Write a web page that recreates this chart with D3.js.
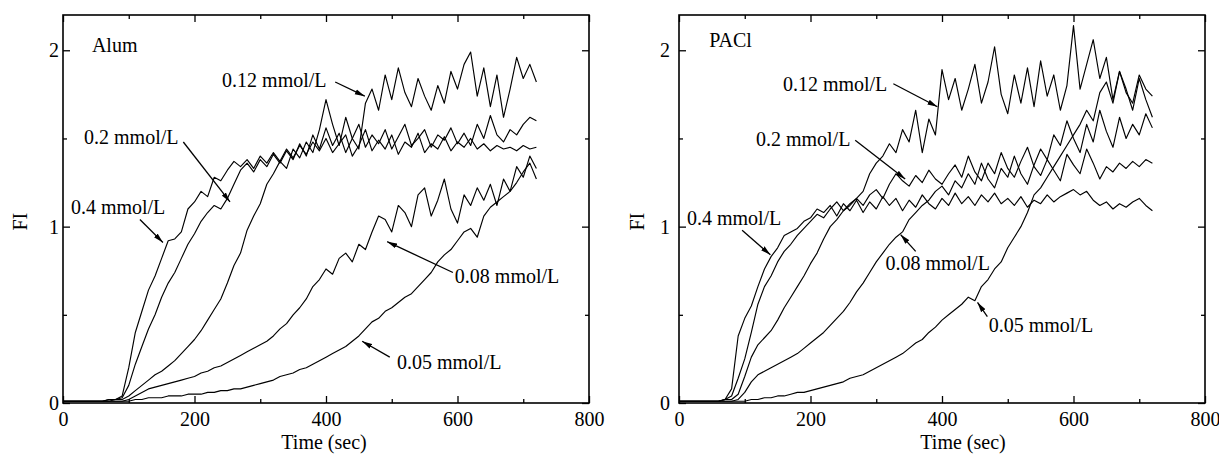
<!DOCTYPE html>
<html>
<head>
<meta charset="utf-8">
<title>FI vs time - Alum / PACl</title>
<script src="https://d3js.org/d3.v7.min.js"></script>
<style>
  body { margin: 0; background: #fff; }
  svg text { font-family: "Liberation Serif", "Times New Roman", serif; fill: #000; }
</style>
</head>
<body>
<svg id="chart" width="1219" height="454"></svg>
<script>

// sampling times (sec)
var times = d3.range(0, 730, 10);

var xMajor = [0, 200, 400, 600, 800];
var xMinor = [100, 300, 500, 700];
var yMajor = [0, 1, 2];
var yMinor = [0.5, 1.5];

// Alum
var alum04 = [0.01,0.01,0.01,0.01,0.01,0.01,0.01,0.02,0.02,
  0.04,0.20,0.40,0.52,0.64,0.72,0.82,0.92,0.93,0.97,1.10,1.14,1.20,1.17,1.28,1.26,1.32,1.37,1.34,1.38,
  1.33,1.40,1.36,1.42,1.37,1.44,1.39,1.46,1.41,1.48,1.43,1.50,1.42,1.47,1.52,1.40,1.46,1.55,1.43,1.49,
  1.44,1.52,1.41,1.48,1.45,1.53,1.42,1.47,1.44,1.51,1.43,1.48,1.45,1.50,1.44,1.47,1.43,1.46,1.44,1.45,
  1.43,1.46,1.44,1.45];
var alum02 = [0.01,0.01,0.01,0.01,0.01,0.01,0.01,0.02,0.02,
  0.03,0.10,0.22,0.32,0.42,0.50,0.60,0.68,0.74,0.82,0.90,0.96,1.03,1.08,1.12,1.10,1.16,1.24,1.32,1.36,
  1.31,1.38,1.34,1.41,1.36,1.43,1.38,1.47,1.40,1.52,1.44,1.56,1.46,1.53,1.42,1.50,1.58,1.45,1.52,1.47,
  1.55,1.44,1.51,1.58,1.46,1.50,1.55,1.45,1.52,1.49,1.56,1.47,1.53,1.46,1.58,1.50,1.63,1.52,1.48,1.55,
  1.52,1.58,1.62,1.60];
var alum012 = [0.01,0.01,0.01,0.01,0.01,0.01,0.01,0.01,0.02,0.02,
  0.04,0.07,0.10,0.13,0.16,0.18,0.21,0.24,0.28,0.32,0.36,0.41,0.47,0.53,0.59,0.68,0.78,0.85,0.98,
  1.06,1.13,1.24,1.30,1.37,1.33,1.44,1.39,1.48,1.42,1.55,1.72,1.58,1.46,1.62,1.50,1.44,1.70,1.78,
  1.66,1.86,1.72,1.90,1.76,1.68,1.84,1.74,1.66,1.80,1.70,1.88,1.78,1.92,1.99,1.74,1.90,1.68,1.86,
  1.62,1.78,1.96,1.84,1.92,1.82];
var alum008 = [0.01,0.01,0.01,0.01,0.01,0.01,0.01,0.01,0.01,0.01,
  0.02,0.04,0.06,0.08,0.09,0.10,0.11,0.12,0.13,0.14,0.15,0.17,0.18,0.20,0.21,0.23,0.25,0.27,0.29,
  0.31,0.33,0.35,0.38,0.42,0.45,0.50,0.54,0.59,0.66,0.70,0.76,0.73,0.82,0.85,0.80,0.90,0.87,0.97,
  1.06,1.04,0.97,1.12,1.08,1.00,1.18,1.22,1.06,1.15,1.27,1.10,1.02,1.18,1.12,1.22,1.15,1.24,1.12,
  1.27,1.20,1.34,1.28,1.40,1.33];
var alum005 = [0.01,0.01,0.01,0.01,0.01,0.01,0.01,0.01,0.01,0.01,
  0.01,0.02,0.02,0.03,0.03,0.03,0.04,0.04,0.04,0.05,0.05,0.05,0.06,0.06,0.07,0.07,0.08,0.08,0.09,
  0.10,0.11,0.12,0.13,0.15,0.16,0.17,0.19,0.20,0.22,0.24,0.26,0.28,0.30,0.32,0.35,0.38,0.42,0.46,
  0.48,0.52,0.54,0.57,0.60,0.62,0.66,0.70,0.74,0.80,0.84,0.87,0.92,0.97,0.99,0.94,1.06,1.11,1.14,
  1.17,1.20,1.25,1.31,1.36,1.27];

// PACl
var pacl04 = [0.01,0.01,0.01,0.01,0.01,0.01,0.01,
  0.02,0.08,0.38,0.48,0.55,0.66,0.76,0.83,0.88,0.95,0.97,0.99,1.03,1.05,1.10,1.08,1.12,1.06,1.13,
  1.09,1.15,1.08,1.14,1.10,1.17,1.12,1.16,1.09,1.15,1.11,1.18,1.13,1.10,1.16,1.12,1.19,1.13,1.17,
  1.12,1.18,1.14,1.19,1.13,1.16,1.12,1.17,1.11,1.15,1.13,1.18,1.14,1.17,1.19,1.21,1.18,1.20,1.15,
  1.12,1.14,1.10,1.13,1.11,1.14,1.16,1.12,1.09];
var pacl02 = [0.01,0.01,0.01,0.01,0.01,0.01,0.01,0.02,
  0.04,0.14,0.25,0.40,0.56,0.66,0.72,0.80,0.86,0.90,0.95,0.99,1.03,1.07,1.05,1.10,1.14,1.09,1.13,
  1.16,1.12,1.18,1.21,1.16,1.24,1.30,1.26,1.23,1.29,1.25,1.32,1.27,1.24,1.30,1.35,1.28,1.40,1.31,
  1.26,1.36,1.30,1.42,1.33,1.28,1.37,1.45,1.34,1.29,1.38,1.32,1.26,1.41,1.35,1.30,1.44,1.36,1.27,
  1.34,1.31,1.36,1.33,1.37,1.34,1.38,1.36];
var pacl012 = [0.01,0.01,0.01,0.01,0.01,0.01,0.01,0.02,0.02,
  0.05,0.15,0.26,0.33,0.37,0.41,0.47,0.54,0.60,0.66,0.72,0.79,0.85,0.93,1.00,1.04,1.09,1.12,1.16,
  1.20,1.30,1.36,1.40,1.47,1.42,1.55,1.48,1.66,1.42,1.61,1.52,1.89,1.72,1.84,1.66,1.78,1.92,1.70,
  1.82,2.02,1.75,1.64,1.86,1.70,1.90,1.68,1.94,1.74,1.86,1.66,1.80,2.14,1.78,1.92,2.06,1.84,1.96,
  1.72,1.88,1.76,1.70,1.86,1.78,1.74];
var pacl008 = [0.01,0.01,0.01,0.01,0.01,0.01,0.01,0.01,0.01,
  0.02,0.06,0.12,0.16,0.18,0.20,0.22,0.24,0.26,0.28,0.31,0.34,0.37,0.40,0.44,0.48,0.52,0.57,0.63,
  0.68,0.74,0.80,0.85,0.90,0.94,0.97,1.04,1.08,1.12,1.15,1.20,1.23,1.18,1.26,1.22,1.30,1.24,1.36,
  1.27,1.22,1.33,1.28,1.40,1.30,1.24,1.35,1.44,1.38,1.52,1.46,1.60,1.50,1.42,1.58,1.48,1.66,1.54,
  1.45,1.62,1.50,1.58,1.52,1.64,1.56];
var pacl005 = [0.01,0.01,0.01,0.01,0.01,0.01,0.01,0.01,0.01,0.01,
  0.01,0.02,0.02,0.03,0.03,0.04,0.04,0.05,0.06,0.06,0.07,0.08,0.09,0.10,0.11,0.12,0.14,0.15,0.16,
  0.18,0.20,0.22,0.24,0.26,0.28,0.31,0.34,0.36,0.40,0.43,0.47,0.50,0.53,0.56,0.60,0.58,0.66,0.70,
  0.76,0.80,0.88,0.94,1.00,1.08,1.18,1.22,1.28,1.34,1.40,1.46,1.52,1.58,1.66,1.60,1.76,1.82,1.70,
  1.88,1.78,1.66,1.84,1.72,1.62];

var labels = ["0.4 mmol/L", "0.2 mmol/L", "0.12 mmol/L", "0.08 mmol/L", "0.05 mmol/L"];

var svg = d3.select("#chart");

svg.append("defs").append("marker")
  .attr("id", "arrow")
  .attr("markerUnits", "userSpaceOnUse")
  .attr("viewBox", "0 0 10 6")
  .attr("refX", 10).attr("refY", 3)
  .attr("markerWidth", 10).attr("markerHeight", 6)
  .attr("orient", "auto")
  .append("path").attr("d", "M0,0.4 L10,3 L0,5.6 Z").attr("fill", "#000");

var W = 526, H = 388;

function panel(opt) {
  var g = svg.append("g").attr("transform", "translate(" + opt.left + "," + opt.top + ")");
  var x = d3.scaleLinear().domain([0, 800]).range([0, W]);
  var y = d3.scaleLinear().domain([0, 2.2]).range([H, 0]);

  // curves
  var line = d3.line().x(function(d, i) { return x(times[i]); }).y(function(d) { return y(d); });
  g.selectAll("path.curve").data(opt.series).enter().append("path")
    .attr("class", "curve")
    .attr("d", line)
    .attr("fill", "none").attr("stroke", "#000").attr("stroke-width", 1.15)
    .attr("stroke-linejoin", "round");

  // axes, ticks pointing inside
  function ax(gen, tr, vals, size, fmt, pad) {
    var a = g.append("g").attr("transform", tr)
      .call(gen.tickValues(vals).tickSizeInner(-size).tickSizeOuter(0).tickPadding(pad).tickFormat(fmt));
    a.select(".domain").remove();
    a.selectAll("line").attr("stroke", "#000").attr("stroke-width", 1.3);
    a.selectAll("text").style("font-size", "20px").attr("font-family", null).attr("fill", "#000");
    return a;
  }
  var none = function() { return ""; };
  ax(d3.axisBottom(x), "translate(0," + H + ")", xMajor, 7, d3.format("d"), 9);
  ax(d3.axisBottom(x), "translate(0," + H + ")", xMinor, 4, none, 0);
  ax(d3.axisTop(x), "translate(0,0)", xMajor, 7, none, 0);
  ax(d3.axisTop(x), "translate(0,0)", xMinor, 4, none, 0);
  ax(d3.axisLeft(y), "translate(0,0)", yMajor, 7, d3.format("d"), opt.ypad);
  ax(d3.axisLeft(y), "translate(0,0)", yMinor, 4, none, 0);
  ax(d3.axisRight(y), "translate(" + W + ",0)", yMajor, 7, none, 0);
  ax(d3.axisRight(y), "translate(" + W + ",0)", yMinor, 4, none, 0);

  g.append("rect").attr("width", W).attr("height", H)
    .attr("fill", "none").attr("stroke", "#000").attr("stroke-width", 1.6);

  // axis titles
  g.append("text").attr("x", opt.xTitle).attr("y", H + 46)
    .attr("text-anchor", "middle").style("font-size", "20px").text("Time (sec)");
  g.append("text")
    .attr("transform", "translate(" + opt.yTitle + "," + (y(1) - 5) + ") rotate(-90)")
    .attr("text-anchor", "middle").style("font-size", "20px").text("FI");

  g.append("text").attr("x", x(opt.name[1])).attr("y", y(opt.name[2]))
    .style("font-size", "20px").text(opt.name[0]);

  // annotations: [label index, text t, text FI, arrow from t, FI, arrow to t, FI]
  opt.notes.forEach(function(n) {
    g.append("text").attr("x", x(n[1])).attr("y", y(n[2]))
      .style("font-size", "20px").text(labels[n[0]]);
    g.append("line")
      .attr("x1", x(n[3])).attr("y1", y(n[4]))
      .attr("x2", x(n[5])).attr("y2", y(n[6]))
      .attr("stroke", "#000").attr("stroke-width", 1.3)
      .attr("marker-end", "url(#arrow)");
  });
}

panel({
  left: 63, top: 15, ypad: 4, xTitle: 261, yTitle: -36,
  name: ["Alum", 44, 1.99],
  series: [alum04, alum02, alum012, alum008, alum005],
  notes: [
    [2, 242, 1.79, 414, 1.82, 459, 1.74],
    [1, 32, 1.47, 183, 1.48, 254, 1.14],
    [0, 12, 1.07, 117, 1.04, 152, 0.91],
    [3, 596, 0.68, 593, 0.74, 493, 0.915],
    [4, 508, 0.19, 497, 0.26, 455, 0.35]
  ]
});

panel({
  left: 679, top: 15, ypad: 9, xTitle: 284, yTitle: -35,
  name: ["PACl", 46, 2.02],
  series: [pacl04, pacl02, pacl012, pacl008, pacl005],
  notes: [
    [2, 158, 1.77, 326, 1.81, 393, 1.68],
    [1, 117, 1.455, 268, 1.49, 344, 1.27],
    [0, 12, 1.01, 96, 0.98, 139, 0.84],
    [3, 314, 0.755, 360, 0.86, 337, 0.955],
    [4, 471, 0.40, 469, 0.49, 454, 0.57]
  ]
});

</script>
</body>
</html>
